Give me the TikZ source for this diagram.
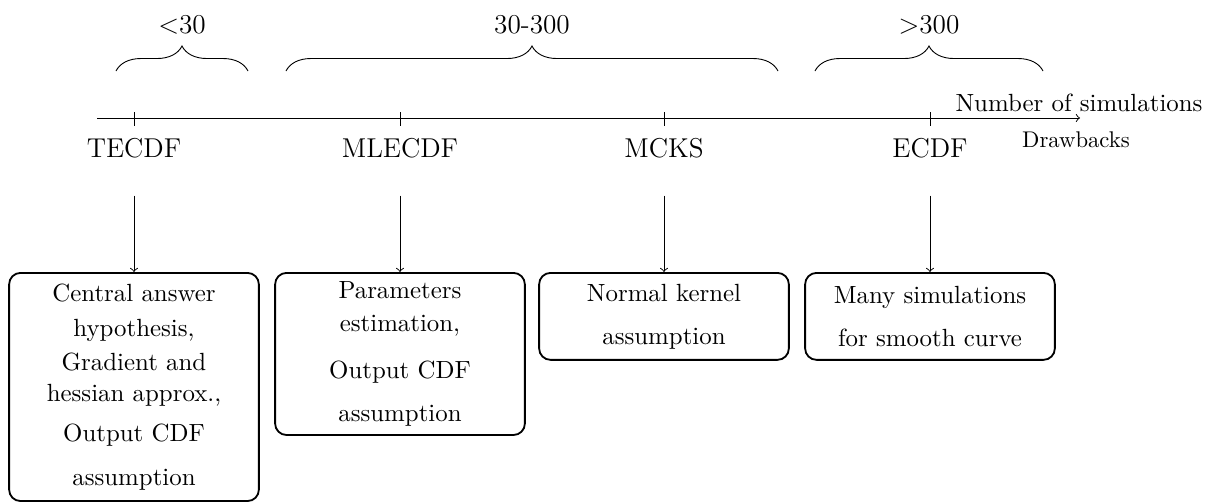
\documentclass[tikz,border=0pt]{standalone}
\usetikzlibrary{decorations.pathreplacing}
\begin{document}
\begin{tikzpicture}[x=0.4405pt,y=-0.4405pt,
  lbl/.style={anchor=base,font=\fontsize{12}{14.5}\selectfont},
  axlbl/.style={anchor=base,font=\fontsize{10.95}{13.6}\selectfont},
  smlbl/.style={anchor=base,font=\fontsize{10}{12}\selectfont},
  brlbl/.style={anchor=base,font=\fontsize{12}{14.5}\selectfont},
  drawbox/.style={draw,thick,rounded corners=5pt,anchor=north,align=center,
    text width=102pt,inner xsep=4pt,inner ysep=1pt,
    font=\fontsize{10.95}{14.5}\selectfont},
  conn/.style={->,shorten <=13.2pt},
  brc/.style={decorate,decoration={brace,amplitude=11pt}}]
\useasboundingbox (0,0) rectangle (1215,502);
% axis
\coordinate (axs) at (97,118);
\coordinate (axe) at (1080,118);
\draw[->] (axs) -- (axe);
\node[axlbl] (nsim) at (1079,111) {Number of simulations};
\node[smlbl] (drw) at (1076,147) {Drawbacks};
% ticks
\foreach \x in {134,400,664,930} \draw (\x,112) -- (\x,126);
% labels
\node[lbl] (tecdf) at (134,157) {TECDF};
\node[lbl] (mlecdf) at (400,157) {MLECDF};
\node[lbl] (mcks) at (664,157) {MCKS};
\node[lbl] (ecdf) at (930,157) {ECDF};
% braces
\draw[brc] (116,71) -- (248,71);
\draw[brc] (286,71) -- (778,71);
\draw[brc] (815,71) -- (1043,71);
\node[brlbl] (r1) at (182,33) {$<$30};
\node[brlbl] (r2) at (532,33) {30-300};
\node[brlbl] (r3) at (929,33) {$>$300};
% boxes
\node[drawbox,minimum height=100.5pt] (b1) at (134,272)
  {Central answer\\[1pt] hypothesis,\\[0.6pt] Gradient and\\[-1pt] hessian approx.,\\[3.1pt] Output CDF\\[5pt] assumption};
\node[drawbox,minimum height=71.4pt] (b2) at (400,272)
  {Parameters\\[-0.2pt] estimation,\\[6.2pt] Output CDF\\[4.4pt] assumption};
\node[drawbox,minimum height=38.3pt] (b3) at (664,272)
  {Normal kernel\\[4.4pt] assumption};
\node[drawbox,minimum height=38.3pt] (b4) at (930,272)
  {Many simulations\\[4.4pt] for smooth curve};
% connectors
\draw[conn] (tecdf) -- (b1);
\draw[conn] (mlecdf) -- (b2);
\draw[conn] (mcks) -- (b3);
\draw[conn] (ecdf) -- (b4);
\end{tikzpicture}
\end{document}
